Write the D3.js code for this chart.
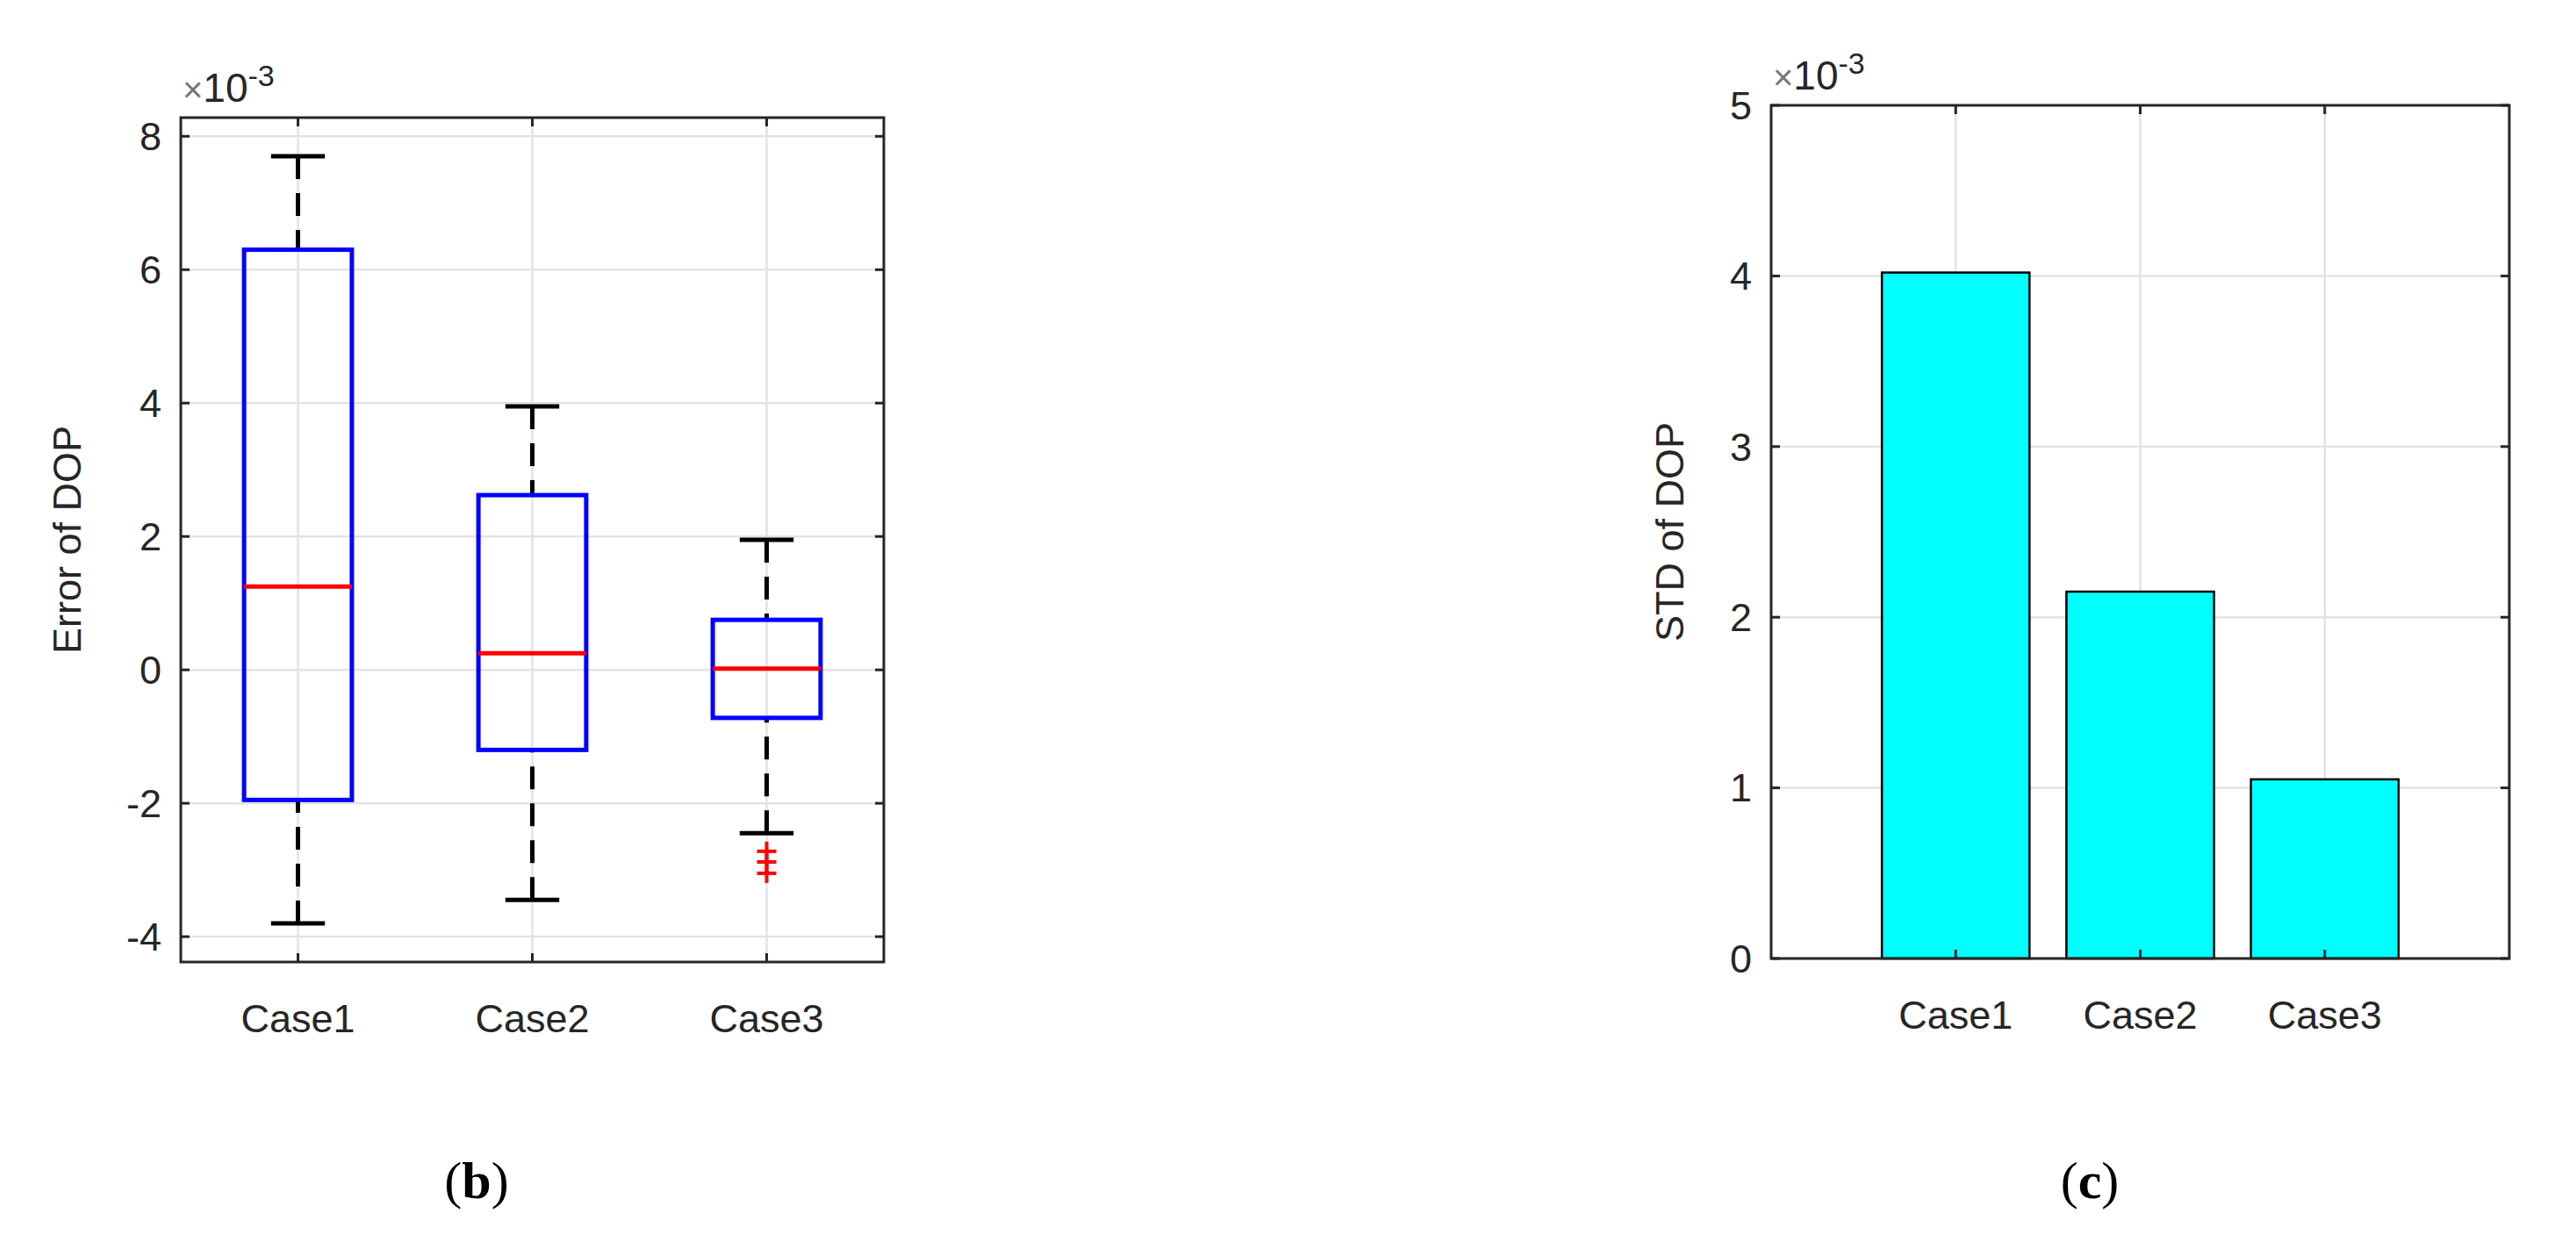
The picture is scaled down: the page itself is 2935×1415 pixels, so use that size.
<!DOCTYPE html><html><head><meta charset="utf-8"><script src="https://d3js.org/d3.v7.min.js"></script>
<style>body{margin:0;background:#fff}svg{display:block}</style></head><body><script>
const categories=["Case1","Case2","Case3"];
const whiskerHigh=[7.7,3.95,1.95];
const q3=[6.3,2.62,0.75];
const median=[1.25,0.25,0.02];
const q1=[-1.95,-1.2,-0.72];
const whiskerLow=[-3.8,-3.45,-2.45];
const outliers=[[],[],[-2.72,-2.88,-3.05]];
const boxTicks=[-4,-2,0,2,4,6,8];
const stdValues=[4.02,2.15,1.05];
const barTicks=[0,1,2,3,4,5];

const W=2935,H=1415,font="Liberation Sans, Arial, sans-serif",tc="#262626";
const svg=d3.select("body").append("svg").attr("width",W).attr("height",H);

function frame(g,x,y,L,R,T,B,xt,yt,fx){
  g.append("g").selectAll("line").data(yt).join("line").attr("x1",L).attr("x2",R).attr("y1",d=>y(d)).attr("y2",d=>y(d)).attr("stroke","#e3e3e3").attr("stroke-width",2.5);
  g.append("g").selectAll("line").data(xt).join("line").attr("x1",d=>fx(d)).attr("x2",d=>fx(d)).attr("y1",T).attr("y2",B).attr("stroke","#e3e3e3").attr("stroke-width",2.5);
}
function axesBox(g,x,y,L,R,T,B,xt,yt,fx){
  g.append("rect").attr("x",L).attr("y",T).attr("width",R-L).attr("height",B-T).attr("fill","none").attr("stroke",tc).attr("stroke-width",3);
  yt.forEach(d=>{[[L,L+10],[R,R-10]].forEach(([a,b])=>g.append("line").attr("x1",a).attr("x2",b).attr("y1",y(d)).attr("y2",y(d)).attr("stroke",tc).attr("stroke-width",3));
    g.append("text").attr("x",L-22).attr("y",y(d)).attr("dy","0.35em").attr("text-anchor","end").attr("font-family",font).attr("font-size",45).attr("fill",tc).text(d);});
  xt.forEach(d=>{[[B,B-10],[T,T+10]].forEach(([a,b])=>g.append("line").attr("x1",fx(d)).attr("x2",fx(d)).attr("y1",a).attr("y2",b).attr("stroke",tc).attr("stroke-width",3));
    g.append("text").attr("x",fx(d)).attr("y",B+64).attr("dy","0.35em").attr("text-anchor","middle").attr("font-family",font).attr("font-size",45).attr("fill",tc).text(d);});
  const e=g.append("text").attr("x",L+2).attr("y",T-18).attr("font-family",font).attr("font-size",46).attr("fill",tc);
  e.append("tspan").text("×").attr("font-size",40).attr("fill","#777");
  e.append("tspan").text("10");
  e.append("tspan").text("-3").attr("font-size",34).attr("dy",-18);
}

// Box plot
{const L=206,R=1007,T=134,B=1096;
 const x=d3.scalePoint().domain(categories).range([L,R]).padding(0.5);
 const y=d3.scaleLinear().domain([-4.38,8.28]).range([B,T]);
 const bw=(R-L)/3*0.46, cw=bw/2;
 const g=svg.append("g");
 frame(g,x,y,L,R,T,B,categories,boxTicks,x);
 categories.forEach((c,i)=>{const cx=x(c);
  g.append("line").attr("x1",cx).attr("x2",cx).attr("y1",y(whiskerHigh[i])).attr("y2",y(q3[i])).attr("stroke","#000").attr("stroke-width",5).attr("stroke-dasharray","26,16");
  g.append("line").attr("x1",cx).attr("x2",cx).attr("y1",y(whiskerLow[i])).attr("y2",y(q1[i])).attr("stroke","#000").attr("stroke-width",5).attr("stroke-dasharray","26,16");
  [whiskerHigh[i],whiskerLow[i]].forEach(v=>g.append("line").attr("x1",cx-cw/2).attr("x2",cx+cw/2).attr("y1",y(v)).attr("y2",y(v)).attr("stroke","#000").attr("stroke-width",5));
  g.append("rect").attr("x",cx-bw/2).attr("y",y(q3[i])).attr("width",bw).attr("height",y(q1[i])-y(q3[i])).attr("fill","none").attr("stroke","#0000ff").attr("stroke-width",5);
  g.append("line").attr("x1",cx-bw/2).attr("x2",cx+bw/2).attr("y1",y(median[i])).attr("y2",y(median[i])).attr("stroke","#ff0000").attr("stroke-width",5);
  outliers[i].forEach(v=>{g.append("line").attr("x1",cx-11).attr("x2",cx+11).attr("y1",y(v)).attr("y2",y(v)).attr("stroke","#ff0000").attr("stroke-width",4);
    g.append("line").attr("x1",cx).attr("x2",cx).attr("y1",y(v)-11).attr("y2",y(v)+11).attr("stroke","#ff0000").attr("stroke-width",4);});
 });
 axesBox(g,x,y,L,R,T,B,categories,boxTicks,x);
 g.append("text").attr("transform",`translate(92,${(T+B)/2}) rotate(-90)`).attr("text-anchor","middle").attr("font-family",font).attr("font-size",45).attr("fill",tc).text("Error of DOP");
 const t=g.append("text").attr("x",543).attr("y",1365).attr("text-anchor","middle").attr("font-family","Liberation Serif, serif").attr("font-size",60).attr("fill","#000");
 t.append("tspan").text("(");t.append("tspan").text("b").attr("font-weight","bold");t.append("tspan").text(")");
}
// Bar chart
{const L=2018,R=2859,T=120,B=1092;
 const x=d3.scaleLinear().domain([0,4]).range([L,R]);
 const fx=c=>x(categories.indexOf(c)+1);
 const y=d3.scaleLinear().domain([0,5]).range([B,T]);
 const g=svg.append("g");
 frame(g,x,y,L,R,T,B,categories,barTicks,fx);
 const bw=(x(1)-x(0))*0.8;
 g.selectAll("rect.bar").data(stdValues).join("rect").attr("class","bar").attr("x",(d,i)=>fx(categories[i])-bw/2).attr("width",bw).attr("y",d=>y(d)).attr("height",d=>B-y(d)).attr("fill","#00ffff").attr("stroke","#000").attr("stroke-width",2.5);
 axesBox(g,x,y,L,R,T,B,categories,barTicks,fx);
 g.append("text").attr("transform",`translate(1918,${(T+B)/2}) rotate(-90)`).attr("text-anchor","middle").attr("font-family",font).attr("font-size",45).attr("fill",tc).text("STD of DOP");
 const t=g.append("text").attr("x",2381).attr("y",1365).attr("text-anchor","middle").attr("font-family","Liberation Serif, serif").attr("font-size",60).attr("fill","#000");
 t.append("tspan").text("(");t.append("tspan").text("c").attr("font-weight","bold");t.append("tspan").text(")");
}
</script></body></html>
